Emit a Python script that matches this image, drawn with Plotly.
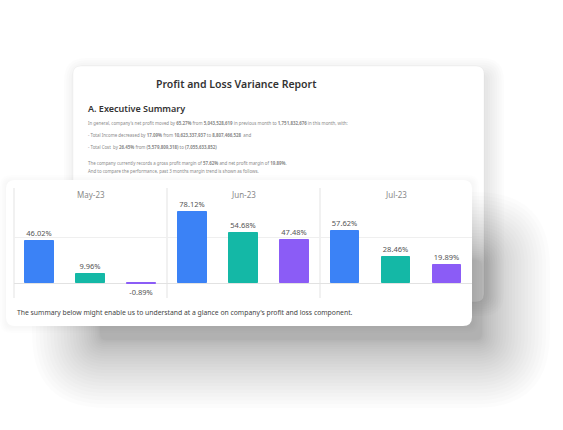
import plotly.graph_objects as go

# ---------------- data ----------------
months = ["May-23", "Jun-23", "Jul-23"]
metrics = ["Gross Profit Margin", "Operating Profit Margin", "Net Profit Margin"]
gross_margin = [46.02, 78.12, 57.62]
operating_margin = [9.96, 54.68, 28.46]
net_margin = [-0.89, 47.48, 19.89]
metric_colors = ["#3b82f6", "#14b8a6", "#8b5cf6"]

report_title = "Profit and Loss Variance Report"
section_title = "A. Executive Summary"
summary_lines = [
    "In general, company's net profit moved by <b>65.27%</b> from <b>5,043,528,619</b> in previous month to <b>1,751,832,676</b> in this month, with:",
    "- Total Income decreased by <b>17.09%</b> from <b>10,623,337,937</b> to <b>8,807,466,528</b>  and",
    "- Total Cost  by <b>26.45%</b> from <b>(5,579,809,318)</b> to <b>(7,055,633,852)</b>",
    "The company currently records a gross profit margin of <b>57.62%</b> and net profit margin of <b>19.89%</b>.",
    "And to compare the performance, past 3 months margin trend is shown as follows.",
]
footer_text = "The summary below might enable us to understand at a glance on company's profit and loss component."

W, H = 563, 430
FONT = "Noto Sans"


def px(x):
    return x / W


def py(y):
    return 1 - y / H


def rrect_path(x0, y0, x1, y1, r):
    pts = [
        f"M {px(x0 + r)} {py(y0)}",
        f"L {px(x1 - r)} {py(y0)}",
        f"Q {px(x1)} {py(y0)} {px(x1)} {py(y0 + r)}",
        f"L {px(x1)} {py(y1 - r)}",
        f"Q {px(x1)} {py(y1)} {px(x1 - r)} {py(y1)}",
        f"L {px(x0 + r)} {py(y1)}",
        f"Q {px(x0)} {py(y1)} {px(x0)} {py(y1 - r)}",
        f"L {px(x0)} {py(y0 + r)}",
        f"Q {px(x0)} {py(y0)} {px(x0 + r)} {py(y0)}",
        "Z",
    ]
    return " ".join(pts)


shapes = []


def add_shadow(x0, y0, x1, y1, spread, n, alpha, p=1.0):
    for i in range(n):
        e = spread * (i / (n - 1)) ** p
        shapes.append(dict(
            type="path", xref="paper", yref="paper", layer="below",
            path=rrect_path(x0 - e, y0 - e, x1 + e, y1 + e, 6 + e),
            fillcolor=f"rgba(0,0,0,{alpha})", line=dict(width=0),
        ))


# back card
add_shadow(80, 74, 488, 300, 16, 8, 0.01)
shapes.append(dict(type="path", xref="paper", yref="paper", layer="below",
                   path=rrect_path(73, 66, 484, 302, 8),
                   fillcolor="white", line=dict(color="rgba(0,0,0,0.035)", width=1)))
# front card shadow
add_shadow(100, 260, 482, 340, 68, 26, 0.0108, 1.4)
add_shadow(5, 180, 474, 328, 5, 4, 0.008)
shapes.append(dict(type="path", xref="paper", yref="paper", layer="below",
                   path=rrect_path(6, 180, 472, 326, 9),
                   fillcolor="white", line=dict(width=0)))

# panel separators
panel_edges = [14, 167, 320, 472]
for xe in panel_edges[:3]:
    shapes.append(dict(type="line", xref="paper", yref="paper", layer="below",
                       x0=px(xe), x1=px(xe), y0=py(188), y1=py(298),
                       line=dict(color="#e3e3e3", width=1)))

fig = go.Figure()
for i, m in enumerate(months):
    vals = [gross_margin[i], operating_margin[i], net_margin[i]]
    sfx = "" if i == 0 else str(i + 1)
    fig.add_trace(go.Bar(
        x=metrics, y=vals, name=m,
        marker=dict(color=metric_colors, line=dict(width=1, color=metric_colors)),
        width=0.55,
        text=[f"{v:.2f}%" for v in vals],
        textposition="outside",
        textfont=dict(family=FONT, size=7.5, color="#555555"),
        cliponaxis=False,
        xaxis="x" + sfx, yaxis="y" + sfx,
        showlegend=False,
        hoverinfo="skip",
    ))

layout = dict(
    width=W, height=H,
    margin=dict(l=0, r=0, t=0, b=0),
    paper_bgcolor="white", plot_bgcolor="rgba(0,0,0,0)",
    shapes=shapes, bargap=0, showlegend=False,
    font=dict(family=FONT),
)
ydom = [py(298), py(203)]
for i in range(3):
    sfx = "" if i == 0 else str(i + 1)
    layout["xaxis" + sfx] = dict(
        domain=[px(panel_edges[i]), px(panel_edges[i + 1])],
        anchor="y" + sfx, type="category", categoryarray=metrics,
        range=[-0.5, 2.5], showticklabels=False, showgrid=False,
        zeroline=False, showline=False, ticks="", fixedrange=True,
    )
    ya = dict(
        domain=ydom, anchor="x" + sfx, range=[-16.5, 88],
        tickvals=[0, 50], showticklabels=False, showgrid=True,
        gridcolor="#efefef", gridwidth=1, zeroline=True,
        zerolinecolor="#e2e2e2", zerolinewidth=1, showline=False, ticks="",
    )
    if i > 0:
        ya["matches"] = "y"
    layout["yaxis" + sfx] = ya
fig.update_layout(**layout)

annotations = []
for i, m in enumerate(months):
    annotations.append(dict(
        text=m, xref="paper", yref="paper",
        x=px((panel_edges[i] + panel_edges[i + 1]) / 2), y=py(194),
        showarrow=False, xanchor="center", yanchor="middle",
        font=dict(family=FONT, size=8, color="#8a8a8a"),
    ))
annotations.append(dict(
    text=report_title, xref="paper", yref="paper", x=px(236), y=py(84),
    showarrow=False, xanchor="center", yanchor="middle",
    font=dict(family=FONT, size=10.5, color="#333333", weight=600),
))
annotations.append(dict(
    text=section_title, xref="paper", yref="paper", x=px(86), y=py(109),
    showarrow=False, xanchor="left", yanchor="middle",
    font=dict(family=FONT, size=9, color="#333333", weight=600),
))
line_y = [122.5, 135, 147.5, 163, 171]
for t, yy in zip(summary_lines, line_y):
    annotations.append(dict(
        text=t, xref="paper", yref="paper", x=px(86), y=py(yy),
        showarrow=False, xanchor="left", yanchor="middle",
        font=dict(family=FONT, size=4.4, color="#8a8a8a"),
    ))
annotations.append(dict(
    text=footer_text, xref="paper", yref="paper", x=px(15), y=py(312),
    showarrow=False, xanchor="left", yanchor="middle",
    font=dict(family=FONT, size=6.8, color="#444444"),
))
fig.update_layout(annotations=annotations)

fig.write_html("out.html")
